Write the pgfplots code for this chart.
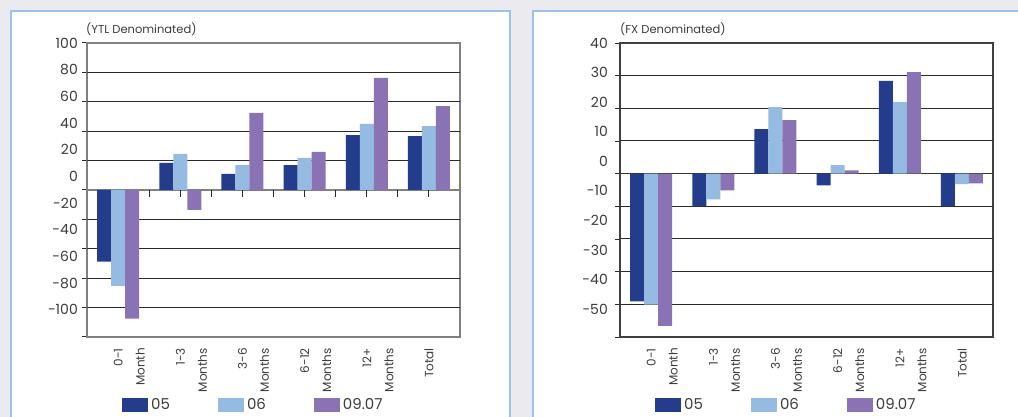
\documentclass[border=0pt]{standalone}
\usepackage{pgfplots}
\pgfplotsset{compat=1.18}
\usepackage{fontspec}
\setmainfont{Poppins}

\definecolor{cA}{HTML}{243C8C}
\definecolor{cB}{HTML}{95BBE3}
\definecolor{cC}{HTML}{8A73B5}
\definecolor{pagebg}{HTML}{EBEBEF}
\definecolor{panelrule}{HTML}{9CC2EA}
\definecolor{txt}{HTML}{3C3C3C}
\definecolor{framegray}{HTML}{808080}
\definecolor{rulecol}{HTML}{2A2A2A}

\pgfplotsset{
  ybar legend/.style={
    /pgfplots/legend image code/.code={\fill[##1] (0bp,-7bp) rectangle (26bp,7bp);}},
  % common geometry of a panel
  panelbox/.style={
    scale only axis, width=373bp, height=294bp,
    anchor=south west,
    xmin=-0.5, xmax=5.5,
  },
  % frame, ticks and labels
  panel/.style={
    panelbox,
    axis line style={framegray, line width=1.5bp},
    xtick={0,...,5},
    xticklabels={{0-1\\Month},{1-3\\Months},{3-6\\Months},{6-12\\Months},{12+\\Months},{Total}},
    xtick style={draw=none},
    xticklabel style={xshift=-4.5bp, yshift=-6bp, rotate=90, anchor=north east,
      align=right, inner sep=0pt, text=txt,
      font=\fontsize{12bp}{22bp}\selectfont},
    ytick style={rulecol, line width=1bp},
    ytick pos=left,
    tick align=outside,
    major tick length=5bp,
    yticklabels={},
    extra y tick style={major tick length=0pt},
    yticklabel style={inner sep=0pt, text=txt, font=\fontsize{14bp}{16bp}\selectfont},
  },
  % bars and legend
  barlayer/.style={
    panelbox,
    hide axis,
    ybar=0pt, bar width=14bp,
    legend columns=3,
    legend style={draw=none, fill=none, inner sep=0pt, text=txt,
      font=\fontsize{15bp}{17bp}\selectfont,
      at={(0.0938,-0.2313)}, anchor=west,
      nodes={inner sep=0pt},
      /tikz/every odd column/.append style={column sep=3bp},
      /tikz/every even column/.append style={column sep=48bp}},
  },
}

\begin{document}
\begin{tikzpicture}
\useasboundingbox (0,0) rectangle (1018bp,417bp);
\fill[pagebg] (0,0) rectangle (1018bp,417bp);
\filldraw[fill=white, draw=panelrule, line width=2bp] (11bp,-5bp) rectangle (510bp,406bp);
\filldraw[fill=white, draw=panelrule, line width=2bp] (533bp,-5bp) rectangle (1030bp,406bp);

\node[anchor=west, inner sep=0pt, text=txt, font=\fontsize{11.5bp}{14bp}\selectfont]
  at (86bp,387.7bp) {(YTL Denominated)};
\node[anchor=west, inner sep=0pt, text=txt, font=\fontsize{11.5bp}{14bp}\selectfont]
  at (620bp,387.7bp) {(FX Denominated)};

% YTL denominated: frame and labels
\begin{axis}[panel, at={(87bp,80bp)},
  ymin=-100, ymax=100,
  ytick={-100,-80,-60,-40,-20,0,20,40,60,80,100},
  extra y ticks={100,81.85,63.7,45.55,27.4,9.25,-8.9,-27.05,-45.2,-63.35,-81.5},
  extra y tick labels={100,80,60,40,20,0,-20,-40,-60,-80,-100},
  yticklabel style={xshift=-9bp},
]
\draw[framegray, line width=1.5bp] (axis cs:-0.5,0) -- (axis cs:5.5,0);
\pgfplotsinvokeforeach{0.5,1,1.5,2,2.5,3,3.5,4,4.5,5}{
  \draw[rulecol, line width=1bp] (axis cs:#1,0) -- ([yshift=-7bp]axis cs:#1,0);}
\end{axis}

% FX denominated: frame and labels
\begin{axis}[panel, at={(620bp,80bp)},
  ymin=-50, ymax=40,
  ytick={-50,-40,-30,-20,-10,0,10,20,30,40},
  extra y ticks={40,30.95,21.9,12.85,3.8,-5.25,-14.3,-23.35,-32.4,-41.45},
  extra y tick labels={40,30,20,10,0,-10,-20,-30,-40,-50},
  yticklabel style={xshift=-12bp},
  axis line style={black!75},
]
\draw[black!80, line width=1.5bp] (axis cs:-0.5,0) -- (axis cs:5.5,0);
\end{axis}

% horizontal rules across both plot areas
\foreach \k in {1,2,3,4,6,7,8,9}
  \fill[rulecol] (87bp,79.5bp+\k*29.4bp) rectangle (460bp,80.5bp+\k*29.4bp);
\foreach \k in {1,2,3,4,6,7,8}
  \fill[rulecol] (620bp,79.5bp+\k*32.667bp) rectangle (993bp,80.5bp+\k*32.667bp);

% YTL denominated: bars
\begin{axis}[barlayer, at={(87bp,80bp)}, ymin=-100, ymax=100]
\addplot[fill=cA, draw=none] coordinates {(0,-48.8) (1,18.4) (2,10.9) (3,17.0) (4,37.4) (5,36.7)};
\addplot[fill=cB, draw=none] coordinates {(0,-65.3) (1,24.5) (2,17.0) (3,21.8) (4,44.9) (5,43.5)};
\addplot[fill=cC, draw=none] coordinates {(0,-87.5) (1,-13.6) (2,52.4) (3,25.9) (4,76.2) (5,57.1)};
\legend{05,06,09.07}
\end{axis}

% FX denominated: bars
\begin{axis}[barlayer, at={(620bp,80bp)}, ymin=-50, ymax=40]
\addplot[fill=cA, draw=none] coordinates {(0,-39.1) (1,-10.0) (2,13.6) (3,-3.6) (4,28.4) (5,-10.0)};
\addplot[fill=cB, draw=none] coordinates {(0,-40.1) (1,-7.9) (2,20.4) (3,2.6) (4,21.9) (5,-3.2)};
\addplot[fill=cC, draw=none] coordinates {(0,-46.6) (1,-5.1) (2,16.4) (3,1.0) (4,31.1) (5,-3.0)};
\legend{05,06,09.07}
\end{axis}
\end{tikzpicture}
\end{document}
